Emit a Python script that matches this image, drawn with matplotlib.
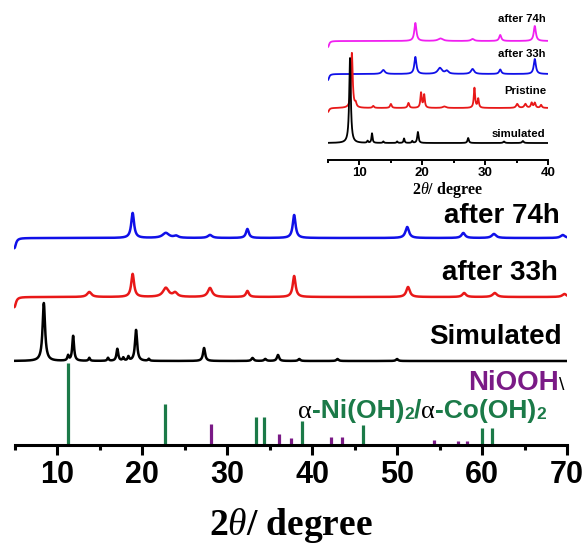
import numpy as np
import matplotlib
matplotlib.use("Agg")
import matplotlib.pyplot as plt
from matplotlib.transforms import IdentityTransform

plt.rcParams['mathtext.fontset'] = 'custom'
plt.rcParams['mathtext.rm'] = 'Liberation Serif:bold'
plt.rcParams['mathtext.it'] = 'Liberation Serif:italic'
plt.rcParams['mathtext.bf'] = 'Liberation Serif:bold'

# ---------------- data (main panel) ----------------
main_xrange = [5, 70]
# simulated pattern peaks (position, height, FWHM)
sim_pos = [8.45, 11.3, 11.9, 13.8, 16.0, 17.1, 17.8, 18.4, 19.3, 20.8, 27.3, 33.0, 34.5, 36.0, 38.5, 43.0, 50.0]
sim_h   = [58, 5, 25, 3, 3, 12, 3, 4, 31, 2, 13, 3, 2, 6, 2, 2, 2]
sim_w   = [0.35, 0.2, 0.25, 0.2, 0.2, 0.25, 0.2, 0.2, 0.3, 0.2, 0.3, 0.3, 0.3, 0.3, 0.3, 0.3, 0.3]
sim_base = 84

a33_pos = [5.0, 13.8, 18.9, 22.8, 23.9, 28.0, 32.4, 37.9, 51.3, 57.9, 61.5, 69.7]
a33_h   = [-10, 5, 23, 9, 4, 9, 6, 21, 10, 4, 4, 3]
a33_w   = [0.4, 0.6, 0.4, 0.8, 0.6, 0.6, 0.4, 0.4, 0.5, 0.5, 0.6, 0.6]
a33_base = 148

a74_pos = [5.0, 18.9, 22.8, 24.0, 28.0, 32.4, 37.9, 51.2, 57.8, 61.4, 69.5]
a74_h   = [-10, 25, 5, 2, 3, 9, 23, 11, 5, 4, 3]
a74_w   = [0.4, 0.4, 0.9, 0.6, 0.6, 0.4, 0.4, 0.5, 0.5, 0.6, 0.6]
a74_base = 207

# reference sticks
ni_co_pos = [11.3, 22.7, 33.4, 34.3, 38.8, 46.0, 60.0, 61.2]
ni_co_h   = [82, 41, 28, 28, 24, 20, 17, 17]
niooh_pos = [28.1, 36.1, 37.5, 42.2, 43.5, 54.3, 57.2, 58.2]
niooh_h   = [21, 11, 7, 8, 8, 5, 4, 4]

main_ticks = [10, 20, 30, 40, 50, 60, 70]

# ---------------- data (inset) ----------------
ins_xrange = [5, 40]
isim_pos = [8.5, 11.3, 12.0, 13.8, 16.0, 17.1, 18.4, 19.3, 27.3, 33.0, 36.0]
isim_h   = [85, 2, 9.5, 1.5, 1.5, 4.5, 2, 11, 5, 1.5, 2]
isim_w   = [0.3, 0.2, 0.2, 0.2, 0.2, 0.2, 0.2, 0.25, 0.25, 0.3, 0.3]
isim_base = 17

ipri_pos = [5.0, 8.8, 9.4, 12.2, 15.0, 17.8, 19.8, 20.3, 23.5, 28.3, 28.9, 35.1, 36.4, 37.4, 37.9, 38.9]
ipri_h   = [-4, 55, 4, 2, 4, 5, 15, 13, 1.5, 20, 9, 4, 4, 5, 5, 3]
ipri_w   = [0.4, 0.3, 0.3, 0.3, 0.3, 0.3, 0.25, 0.25, 0.6, 0.25, 0.25, 0.4, 0.4, 0.3, 0.3, 0.3]
ipri_base = 52

i33_pos = [5.0, 13.8, 18.9, 22.8, 23.9, 28.0, 32.4, 37.9]
i33_h   = [-6, 4, 17, 6, 3, 5, 4.5, 15]
i33_w   = [0.4, 0.6, 0.4, 0.8, 0.6, 0.6, 0.4, 0.4]
i33_base = 86

i74_pos = [5.0, 18.9, 22.9, 28.0, 32.4, 37.9]
i74_h   = [-6, 18, 2.5, 2, 6, 15]
i74_w   = [0.4, 0.4, 0.9, 0.6, 0.4, 0.4]
i74_base = 119

ins_ticks = [10, 20, 30, 40]

# ---------------- helpers ----------------
def profile(x, pos, h, w, base):
    y = np.full_like(x, float(base))
    for p, hh, ww in zip(pos, h, w):
        g = (ww / 2) ** 2
        y += hh * g / ((x - p) ** 2 + g)
    return y

W, H = 587, 547
fig = plt.figure(figsize=(W / 100, H / 100), dpi=100)

def px_rect(x0, x1, ytop, ybot):
    return [x0 / W, 1 - ybot / H, (x1 - x0) / W, (ybot - ytop) / H]

BLUE = '#1010E8'
RED = '#E81818'
GREEN = '#1B7A48'
PURPLE = '#7A1A86'
MAGENTA = '#F020F0'

# ---------------- main axes ----------------
ax = fig.add_axes(px_rect(14.5, 567, 190, 445))
x = np.linspace(main_xrange[0], main_xrange[1], 4000)
ax.plot(x, profile(x, a74_pos, a74_h, a74_w, a74_base), color=BLUE, lw=1.8)
ax.plot(x, profile(x, a33_pos, a33_h, a33_w, a33_base), color=RED, lw=1.8)
ax.plot(x, profile(x, sim_pos, sim_h, sim_w, sim_base), color='black', lw=1.8)
ax.vlines(ni_co_pos, 0, ni_co_h, color=GREEN, lw=2.3)
ax.vlines(niooh_pos, 0, niooh_h, color=PURPLE, lw=2.3)
ax.set_xlim(*main_xrange)
ax.set_ylim(0, 255)
for s in ['left', 'right', 'top']:
    ax.spines[s].set_visible(False)
ax.spines['bottom'].set_linewidth(2.2)
ax.set_yticks([])
ax.set_xticks(main_ticks)
ax.set_xticks([5, 15, 25, 35, 45, 55, 65], minor=True)
ax.tick_params(axis='x', which='major', direction='out', length=7, width=2.2, pad=4)
ax.tick_params(axis='x', which='minor', direction='out', length=3.5, width=2.2)
for lab in ax.get_xticklabels():
    lab.set_fontfamily('Liberation Sans')
    lab.set_fontweight('bold')
    lab.set_fontsize(22)
ax.patch.set_alpha(0)
ax.set_xlabel(r'$\mathrm{2}\theta\mathrm{/\ degree}$', fontsize=27, labelpad=11)

lab_kw = dict(fontfamily='Liberation Sans', fontweight='bold', fontsize=20, ha='right', va='center')
fig.text(560 / W, 1 - 216 / H, 'after 74h', **lab_kw)
fig.text(558 / W, 1 - 273 / H, 'after 33h', **lab_kw)
fig.text(562 / W, 1 - 337 / H, 'Simulated', **lab_kw)

renderer = fig.canvas.get_renderer()
ident = IdentityTransform()

def chain(parts, x0, y0):
    xcur = x0
    for s, kw, dy in parts:
        t = fig.text(xcur, y0 + dy, s, transform=ident, ha='left', va='baseline', **kw)
        bb = t.get_window_extent(renderer)
        xcur = bb.x1

sans_g = dict(fontfamily='Liberation Sans', fontweight='bold', fontsize=19, color=GREEN)
sub_g = dict(fontfamily='Liberation Sans', fontweight='bold', fontsize=12.5, color=GREEN)
alpha_kw = dict(fontfamily='Liberation Serif', fontsize=19, color='black')
chain([('NiOOH', dict(fontfamily='Liberation Sans', fontweight='bold', fontsize=20, color=PURPLE), 0),
       ('\\', dict(fontfamily='Liberation Sans', fontsize=14, color='black'), 0)],
      468, H - 390)
chain([('α', alpha_kw, 0), ('-Ni(OH)', sans_g, 0), ('2', sub_g, -1), ('/', sans_g, 0),
       ('α', alpha_kw, 0), ('-Co(OH)', sans_g, 0), ('2', sub_g, -1)],
      298, H - 418)

# ---------------- inset ----------------
ia = fig.add_axes(px_rect(328, 548, 10, 160))
xi = np.linspace(ins_xrange[0], ins_xrange[1], 3000)
ia.plot(xi, profile(xi, i74_pos, i74_h, i74_w, i74_base), color=MAGENTA, lw=1.3)
ia.plot(xi, profile(xi, i33_pos, i33_h, i33_w, i33_base), color=BLUE, lw=1.3)
ia.plot(xi, profile(xi, ipri_pos, ipri_h, ipri_w, ipri_base), color=RED, lw=1.3)
ia.plot(xi, profile(xi, isim_pos, isim_h, isim_w, isim_base), color='black', lw=1.3)
ia.set_xlim(*ins_xrange)
ia.set_ylim(0, 150)
for s in ['left', 'right', 'top']:
    ia.spines[s].set_visible(False)
ia.spines['bottom'].set_linewidth(1.4)
ia.set_yticks([])
ia.set_xticks(ins_ticks)
ia.set_xticks([5, 15, 25, 35], minor=True)
ia.tick_params(axis='x', which='major', direction='out', length=3.5, width=1.4, pad=1.5)
ia.tick_params(axis='x', which='minor', direction='out', length=2, width=1.4)
for lab in ia.get_xticklabels():
    lab.set_fontfamily('Liberation Sans')
    lab.set_fontweight('bold')
    lab.set_fontsize(9.5)
ia.patch.set_alpha(0)
ia.set_xlabel(r'$\mathrm{2}\theta\mathrm{/\ degree}$', fontsize=11.5, labelpad=0)
ia.xaxis.set_label_coords(0.545, -0.135)

ilab = dict(fontfamily='Liberation Sans', fontweight='bold', fontsize=8.2, ha='right', va='center')
fig.text(546 / W, 1 - 19 / H, 'after 74h', **ilab)
fig.text(546 / W, 1 - 54 / H, 'after 33h', **ilab)
fig.text(546 / W, 1 - 91 / H, 'Pristine', **ilab)
fig.text(545 / W, 1 - 134 / H, 'simulated', **ilab)

fig.savefig('out.png', dpi=100)
